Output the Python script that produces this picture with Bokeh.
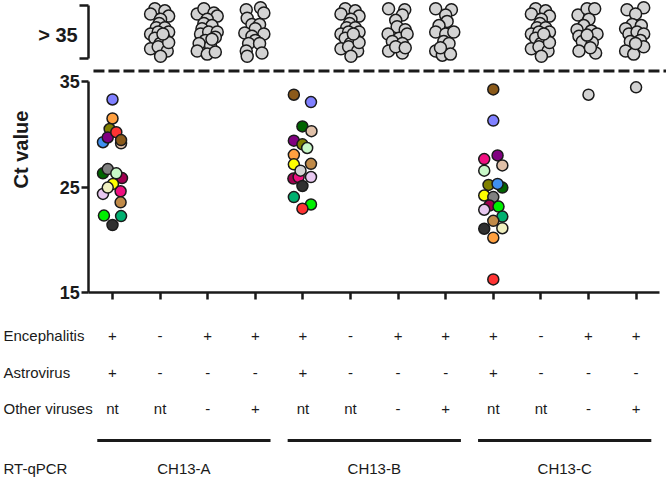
import math
from bokeh.plotting import figure
from bokeh.layouts import column
from bokeh.models import Range1d, FixedTicker, ColumnDataSource
from bokeh.embed import file_html
from bokeh.resources import INLINE
from bokeh.core.properties import value

FONT = "Liberation Sans"
INK = "#1a1a1a"
GREY_FILL = "#D3D3D3"

# ---------------- categories / table ----------------
positions = list(range(12))
group_names = ["CH13-A", "CH13-B", "CH13-C"]
group_centers = [1.5, 5.5, 9.5]
row_names = ["Encephalitis", "Astrovirus", "Other viruses"]
encephalitis = ["+", "-", "+", "+", "+", "-", "+", "+", "+", "-", "+", "+"]
astrovirus = ["+", "-", "-", "-", "+", "-", "-", "-", "+", "-", "-", "-"]
other_viruses = ["nt", "nt", "-", "+", "nt", "nt", "-", "+", "nt", "nt", "-", "+"]
method_label = "RT-qPCR"
y_ticks = [15, 25, 35]
y_label = "Ct value"
gt_label = "> 35"

# ---------------- colours ----------------
LAVBLUE = "#8080FF"; ORANGE = "#FFA040"; OLIVE = "#808000"; RED = "#FF3333"
PURPLE = "#800080"; BLUE = "#4090F0"; BROWN = "#8B5A1A"; TAN = "#E0C0A8"
GREY = "#808080"; DKGREEN = "#006400"; LTGREEN = "#C8F8C8"; MAROON = "#A00050"
YELLOW = "#FFFF00"; PALEYEL = "#F0F0C0"; PINK = "#F01080"; LTLAV = "#E8C8F0"
TANBROWN = "#C08A48"; GREEN = "#00F000"; TEAL = "#00B070"; BLACK = "#303030"
LTGREY = "#D3D3D3"

# ---------------- detected samples (Ct) ----------------
A_col = 0
A_colors = [LAVBLUE, ORANGE, OLIVE, BLUE, PURPLE, RED, TAN, BROWN, DKGREEN, GREY,
            MAROON, LTGREEN, YELLOW, LTLAV, PALEYEL, PINK, TANBROWN, GREEN, TEAL, BLACK]
A_ct = [33.3, 31.5, 30.5, 29.25, 29.7, 30.2, 29.15, 29.45, 26.3, 26.7,
        25.85, 26.3, 25.3, 24.35, 24.95, 24.6, 23.55, 22.3, 22.25, 21.4]
A_jit = [0.0, 0.0, -0.06, -0.20, -0.10, 0.08, 0.18, 0.18, -0.20, -0.10,
         0.20, 0.08, 0.01, -0.20, -0.10, 0.17, 0.17, -0.18, 0.18, 0.0]

B_col = 4
B_colors = [BROWN, LAVBLUE, DKGREEN, TAN, PURPLE, OLIVE, LTGREEN, ORANGE, TANBROWN,
            YELLOW, MAROON, PINK, LTGREY, LTLAV, BLACK, TEAL, GREEN, RED]
B_ct = [33.75, 33.05, 30.75, 30.3, 29.4, 29.05, 28.7, 28.05, 27.2,
        27.15, 25.8, 25.95, 26.55, 25.95, 25.1, 24.05, 23.35, 22.95]
B_jit = [-0.19, 0.17, -0.01, 0.18, -0.19, -0.01, 0.09, -0.19, 0.17,
         -0.19, -0.20, -0.09, -0.05, 0.17, -0.01, -0.19, 0.17, -0.01]

C_col = 8
C_colors = [BROWN, LAVBLUE, PURPLE, PINK, TAN, LTGREEN, OLIVE, DKGREEN, BLUE, YELLOW,
            GREY, MAROON, GREEN, LTLAV, TEAL, BLACK, PALEYEL, TANBROWN, ORANGE, RED]
C_ct = [34.25, 31.3, 28.0, 27.65, 27.05, 26.55, 25.2, 24.95, 25.3, 24.2,
        24.05, 23.25, 23.15, 22.85, 22.2, 21.05, 21.1, 21.8, 20.2, 16.25]
C_jit = [0.0, 0.0, 0.09, -0.19, 0.19, -0.19, -0.10, 0.19, 0.09, -0.19,
         0.0, -0.08, 0.11, -0.19, 0.19, -0.19, 0.19, 0.0, 0.0, 0.0]

# single detected samples in CH13-C (+/-, +/+)
C_extra_cols = [10, 11]
C_extra_ct = [33.75, 34.45]

# ---------------- not detected (> 35) swarms: jitter and plotted level ----------------
swarm_A1_dx = [-0.11, 0.10, 0.18, -0.20, 0.01, -0.02, -0.08, 0.10, -0.20, -0.04,
               0.18, -0.11, 0.10, 0.00, -0.20, -0.04, 0.15, 0.01, 0.18, 0.06]
swarm_A1_y = [41.9, 41.7, 41.2, 41.4, 40.9, 40.5, 40.1, 40.1, 39.5, 39.7,
              39.7, 39.1, 39.0, 38.6, 38.1, 38.3, 37.9, 37.4, 38.7, 39.5]
swarm_A2_dx = [-0.22, -0.08, 0.13, 0.20, -0.01, -0.08, 0.09, -0.12, -0.15, 0.02,
               0.20, 0.16, -0.05, -0.18, 0.06, -0.22, -0.01, 0.16, 0.09]
swarm_A2_y = [41.4, 41.9, 41.5, 41.2, 40.9, 40.5, 40.3, 40.0, 39.5, 39.7,
              39.7, 39.2, 38.9, 38.6, 38.4, 37.9, 37.6, 37.8, 39.0]
swarm_A3_dx = [-0.19, 0.11, 0.18, -0.17, -0.07, 0.09, 0.00, -0.22, 0.18, -0.07,
               0.00, -0.14, 0.09, -0.19, 0.14, -0.17]
swarm_A3_y = [41.8, 42.0, 41.5, 41.0, 40.4, 40.4, 40.0, 39.6, 39.5, 39.3,
              38.9, 38.6, 38.6, 37.9, 37.7, 37.4]
swarm_B2_dx = [-0.20, 0.14, 0.09, -0.05, -0.02, 0.15, -0.21, 0.02, 0.19, -0.12,
               0.09, -0.20, 0.09, -0.05, 0.15]
swarm_B2_y = [41.9, 41.8, 41.3, 40.8, 40.2, 39.9, 39.5, 39.1, 39.5, 38.8,
              38.6, 37.9, 37.7, 38.3, 38.2]
swarm_B3_dx = [-0.21, 0.12, 0.00, 0.03, -0.14, -0.21, 0.00, 0.17, -0.04, 0.07,
               -0.21, -0.07, 0.10, -0.11]
swarm_B3_y = [41.9, 41.8, 41.3, 40.7, 40.3, 39.7, 39.5, 39.7, 38.8, 38.6,
              37.9, 37.5, 37.6, 38.2]
swarm_C2_dx = [-0.22, -0.03, 0.13, 0.01, -0.10, -0.24, -0.20, 0.06, 0.18, -0.13,
               0.08, -0.20, 0.15, -0.03, 0.04]
swarm_C2_y = [41.3, 41.9, 41.9, 40.9, 40.3, 39.9, 39.3, 39.8, 39.5, 38.8,
              38.7, 37.9, 37.7, 39.4, 38.2]
swarm_C3_dx = [-0.19, 0.16, -0.01, -0.08, 0.11, -0.22, -0.15, 0.02, 0.16, -0.12,
               0.09, -0.22, -0.05, 0.16, -0.01]
swarm_C3_y = [41.8, 42.0, 41.4, 40.4, 40.3, 40.0, 39.5, 39.7, 39.5, 38.8,
              38.9, 37.9, 37.6, 38.3, 38.6]

swarms = [
    (1, swarm_A1_dx, swarm_A1_y), (2, swarm_A2_dx, swarm_A2_y), (3, swarm_A3_dx, swarm_A3_y),
    (5, swarm_A1_dx, swarm_A1_y), (6, swarm_B2_dx, swarm_B2_y), (7, swarm_B3_dx, swarm_B3_y),
    (9, swarm_A1_dx, swarm_A1_y), (10, swarm_C2_dx, swarm_C2_y), (11, swarm_C3_dx, swarm_C3_y),
]

BRACKET_LOW, BRACKET_MID, BRACKET_HIGH = 37.18, 39.4, 42.2
CUTOFF = 36
Y_MIN, Y_MAX = 15, 35

# ---------------- layout ----------------
W = 666
X_RANGE = (-2.353, 11.639)      # frame spans whole width
AXIS_X = -0.5                   # where the y axis sits
CUTOFF_START = -0.4
YLABEL_X, YLABEL_Y = -1.93, 28.55


def style_axis(ax):
    ax.axis_line_width = 2.5
    ax.axis_line_color = INK
    ax.major_tick_line_width = 2.5
    ax.major_tick_line_color = INK
    ax.minor_tick_line_width = 2.5
    ax.minor_tick_line_color = INK
    ax.major_label_text_font = FONT
    ax.major_label_text_font_style = "bold"
    ax.major_label_text_color = INK


def base_fig(h, yr, xloc=None):
    f = figure(width=W, height=h, x_range=Range1d(*X_RANGE), y_range=yr,
               toolbar_location=None, output_backend="svg", x_axis_location=xloc,
               y_axis_location="left", min_border_left=0, min_border_right=0,
               min_border_top=0, min_border_bottom=0, outline_line_color=None)
    f.grid.visible = False
    return f

# ---------- top panel (> 35) ----------
top = base_fig(65, Range1d(36.52, 42.68))
tax = top.yaxis[0]
style_axis(tax)
tax.fixed_location = AXIS_X
tax.bounds = (BRACKET_LOW - 0.01, BRACKET_HIGH + 0.01)
tax.ticker = FixedTicker(ticks=[BRACKET_MID], minor_ticks=[BRACKET_LOW, BRACKET_HIGH])
tax.major_tick_out = 0
tax.major_tick_in = 0
tax.minor_tick_out = 9
tax.minor_tick_in = 0
tax.major_label_overrides = {BRACKET_MID: gt_label}
tax.major_label_text_font_size = "20px"
tax.major_label_standoff = 2

sx, sy = [], []
for col, dxs, ys in swarms:
    for dx, yv in zip(dxs, ys):
        sx.append(col + dx)
        sy.append(yv)
top.scatter(x=sx, y=sy, size=12, fill_color=GREY_FILL, line_color=INK, line_width=1.5)

# ---------- main panel ----------
main = base_fig(239, Range1d(13.87, 36.52), xloc="below")

yax = main.yaxis[0]
style_axis(yax)
yax.fixed_location = AXIS_X
yax.bounds = (Y_MIN, Y_MAX)
yax.ticker = FixedTicker(ticks=y_ticks, minor_ticks=[])
yax.major_tick_out = 7
yax.major_tick_in = 0
yax.major_label_text_font_size = "18px"
yax.major_label_standoff = 2

xax = main.xaxis[0]
style_axis(xax)
xax.fixed_location = Y_MIN
xax.bounds = (-0.5, 11.5)
xax.ticker = FixedTicker(ticks=[], minor_ticks=positions)   # tick marks only, no labels
xax.minor_tick_out = 7
xax.minor_tick_in = 0

main.segment(x0=[CUTOFF_START], x1=[X_RANGE[1]], y0=[CUTOFF], y1=[CUTOFF],
             line_color=INK, line_width=3, line_dash="11 4")

for col, colors, cts, jit in [(A_col, A_colors, A_ct, A_jit),
                               (B_col, B_colors, B_ct, B_jit),
                               (C_col, C_colors, C_ct, C_jit)]:
    src = ColumnDataSource(dict(x=[col + j for j in jit], y=cts, c=colors))
    main.scatter(x="x", y="y", source=src, size=11, fill_color="c",
                 line_color=INK, line_width=1.5)
main.scatter(x=C_extra_cols, y=C_extra_ct, size=11, fill_color=GREY_FILL,
             line_color=INK, line_width=1.5)

main.text(x=[YLABEL_X], y=[YLABEL_Y], text=[y_label], angle=math.pi / 2,
          text_align="center", text_baseline="middle", text_font=value(FONT),
          text_font_style="bold", text_font_size="20px", text_color=INK)

# ---------- table panel ----------
TH = 174
table = base_fig(TH, Range1d(TH, 0))
table.yaxis.visible = False
ROW_Y = [31, 68, 104]
LINE_Y = 136
GROUP_Y = 164
ROW_LABEL_X = -2.29

tx, ty, tt = [], [], []
for ry, vals in zip(ROW_Y, [encephalitis, astrovirus, other_viruses]):
    for pos, v in zip(positions, vals):
        tx.append(pos); ty.append(ry); tt.append(v)
table.text(x=tx, y=ty, text=tt, text_align="center", text_baseline="middle",
           text_font=value(FONT), text_font_size="15px", text_color=INK)
table.text(x=[ROW_LABEL_X] * 4, y=ROW_Y + [GROUP_Y], text=row_names + [method_label],
           text_align="left", text_baseline="middle", text_font=value(FONT),
           text_font_size="15px", text_color=INK)
table.text(x=group_centers, y=[GROUP_Y] * 3, text=group_names, text_align="center",
           text_baseline="middle", text_font=value(FONT), text_font_size="15px",
           text_color=INK)
table.segment(x0=[c - 1.82 for c in group_centers], x1=[c + 1.82 for c in group_centers],
              y0=[LINE_Y] * 3, y1=[LINE_Y] * 3, line_width=3, line_color=INK)

layout = column(top, main, table, spacing=0)
open("out.html", "w").write(file_html(layout, INLINE))
